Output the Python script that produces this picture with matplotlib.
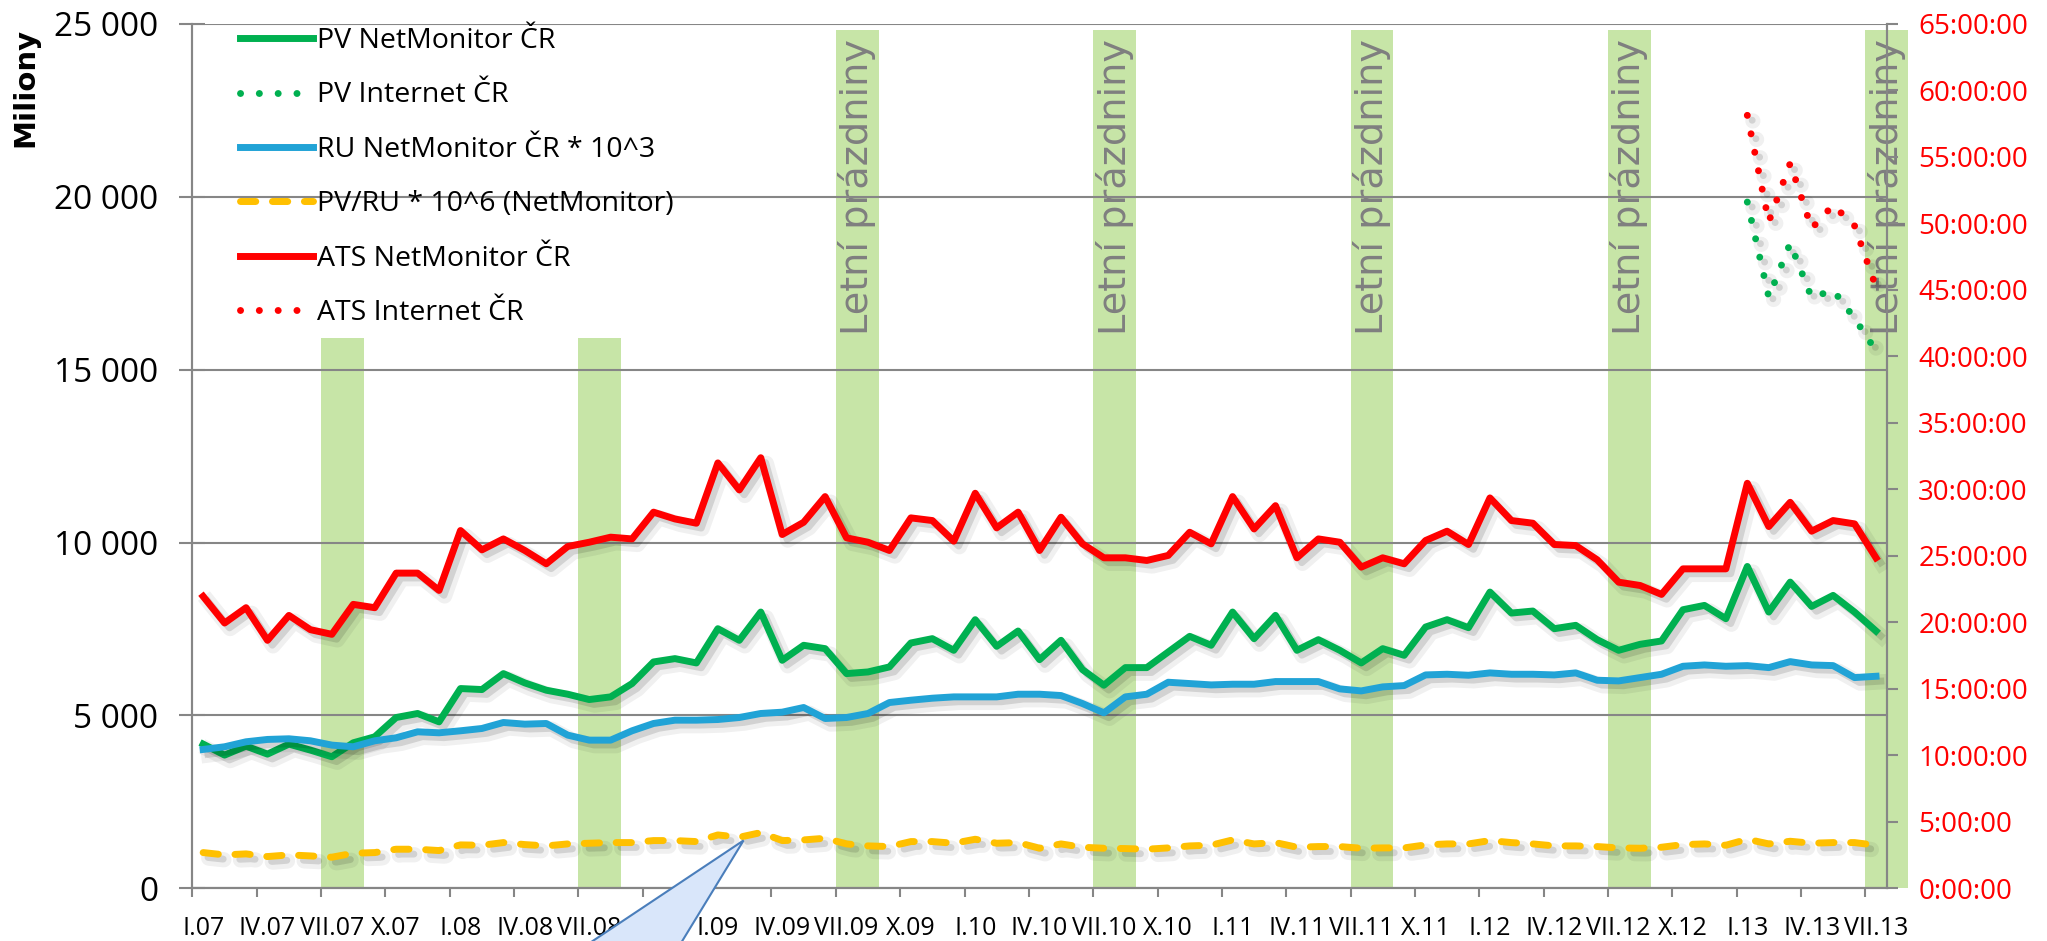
import matplotlib
matplotlib.use('Agg')
import matplotlib.pyplot as plt
import matplotlib.patheffects as pe
from matplotlib.lines import Line2D
from matplotlib.patches import Polygon
from matplotlib.ticker import FuncFormatter, MultipleLocator

# Categories: monthly I.07 .. VII.13
months = ['I', 'II', 'III', 'IV', 'V', 'VI', 'VII', 'VIII', 'IX', 'X', 'XI', 'XII']
years = ['07', '08', '09', '10', '11', '12', '13']
categories = [f'{m}.{y}' for y in years for m in months][:79]

# PV NetMonitor CR (millions)
pv_netmonitor = [4173, 3856, 4115, 3884, 4173, 4000, 3808, 4211, 4384, 4942, 5058, 4817,
                 5779, 5750, 6211, 5942, 5731, 5615, 5461, 5538, 5923, 6548, 6644, 6519,
                 7509, 7173, 7990, 6596, 7029, 6932, 6211, 6259, 6404, 7096, 7221, 6884,
                 7769, 7000, 7442, 6615, 7173, 6327, 5875, 6384, 6384, 6836, 7288, 7029,
                 7990, 7221, 7894, 6884, 7192, 6884, 6519, 6932, 6740, 7557, 7769, 7538,
                 8567, 7961, 8019, 7509, 7606, 7192, 6884, 7057, 7154, 8057, 8182, 7798,
                 9307, 7990, 8855, 8153, 8471, 7990, 7442]
# RU NetMonitor CR * 10^3
ru_netmonitor = [4019, 4096, 4240, 4308, 4327, 4269, 4144, 4096, 4269, 4356, 4529, 4500,
                 4558, 4625, 4798, 4750, 4769, 4433, 4288, 4288, 4558, 4769, 4865, 4865,
                 4884, 4942, 5058, 5096, 5231, 4913, 4942, 5058, 5375, 5442, 5500, 5538,
                 5538, 5538, 5615, 5615, 5577, 5346, 5077, 5538, 5615, 5961, 5923, 5884,
                 5904, 5904, 5981, 5981, 5981, 5769, 5711, 5827, 5865, 6173, 6192, 6163,
                 6231, 6192, 6192, 6173, 6231, 6019, 6000, 6096, 6192, 6423, 6461, 6423,
                 6442, 6384, 6557, 6461, 6442, 6096, 6134]
# PV/RU * 10^6 (NetMonitor)
pv_ru = [1038, 971, 1000, 923, 971, 942, 904, 1019, 1038, 1135, 1135, 1096,
         1260, 1250, 1327, 1269, 1231, 1288, 1308, 1327, 1327, 1385, 1385, 1356,
         1548, 1481, 1615, 1385, 1404, 1452, 1288, 1231, 1212, 1356, 1356, 1308,
         1423, 1308, 1327, 1163, 1288, 1192, 1163, 1154, 1135, 1173, 1231, 1250,
         1404, 1288, 1327, 1192, 1212, 1212, 1163, 1173, 1173, 1260, 1288, 1288,
         1385, 1327, 1288, 1231, 1231, 1212, 1173, 1163, 1192, 1269, 1288, 1250,
         1423, 1288, 1365, 1308, 1327, 1327, 1250]
# ATS NetMonitor CR (hours, right axis)
ats_netmonitor = [21.95, 19.95, 21.10, 18.65, 20.52, 19.45, 19.10, 21.35, 21.10, 23.70, 23.70, 22.40,
                  26.90, 25.45, 26.27, 25.40, 24.40, 25.70, 26.02, 26.40, 26.27, 28.28, 27.77, 27.45,
                  31.98, 29.95, 32.37, 26.60, 27.52, 29.45, 26.35, 26.02, 25.40, 27.85, 27.65, 26.10,
                  29.70, 27.10, 28.28, 25.40, 27.90, 25.90, 24.85, 24.85, 24.65, 25.03, 26.77, 25.90,
                  29.45, 27.02, 28.77, 24.85, 26.27, 26.02, 24.15, 24.85, 24.40, 26.15, 26.85, 25.85,
                  29.35, 27.65, 27.45, 25.85, 25.77, 24.70, 23.02, 22.77, 22.10, 24.02, 24.02, 24.02,
                  30.45, 27.20, 29.02, 26.85, 27.65, 27.40, 24.85]
# Internet CR series, I.13 .. VII.13
internet_categories = ['I.13', 'II.13', 'III.13', 'IV.13', 'V.13', 'VI.13', 'VII.13']
pv_internet = [19840, 17094, 18650, 17075, 17297, 16480, 15540]
ats_internet = [58.1, 50.1, 54.5, 49.6, 51.35, 49.8, 45.2]

# Summer holidays (VII-VIII)
holiday_start = ['VII.07', 'VII.08', 'VII.09', 'VII.10', 'VII.11', 'VII.12', 'VII.13']
holiday_height = [15900, 15900, 24800, 24800, 24800, 24800, 24800]
holiday_text = [False, False, True, True, True, True, True]

GREEN = '#00b050'
BLUE = '#21a3d6'
YELLOW = '#ffc000'
RED = '#ff0000'
BAND = '#c7e5a7'
GRAY = '#868686'
FONT = 'Open Sans'
LW = 5
DOTS = (0, (0.01, 2.7))
DASHES = (0, (2.2, 2.4))

x = list(range(len(categories)))
x_int = [categories.index(c) for c in internet_categories]

fig = plt.figure(figsize=(20.47, 9.41), dpi=100)
ax = fig.add_axes([0.094, 0.0558, 0.8277, 0.9192])
ax2 = ax.twinx()

# soft drop shadow under every series
shadow = [pe.SimpleLineShadow(offset=(4, -4), shadow_color='black', alpha=0.06, linewidth=LW * 2.2),
          pe.SimpleLineShadow(offset=(3.5, -3.5), shadow_color='black', alpha=0.12),
          pe.Normal()]

# holiday bands
for start, h, show in zip(holiday_start, holiday_height, holiday_text):
    c = categories.index(start) + 0.5
    ax.bar(c, h, width=2, color=BAND, zorder=0.5, clip_on=False)
    if show:
        ax.text(c, 24550, 'Letní prázdniny', rotation=90, ha='center', va='top',
                fontsize=27.5, color='#7f7f7f', family='DejaVu Sans', zorder=1, clip_on=False)

ax.plot(x, pv_netmonitor, color=GREEN, lw=LW, path_effects=shadow, zorder=3)
ax.plot(x_int, pv_internet, color=GREEN, lw=LW, linestyle=DOTS,
        dash_capstyle='round', path_effects=shadow, zorder=3)
ax.plot(x, ru_netmonitor, color=BLUE, lw=LW, path_effects=shadow, zorder=3)
ax.plot(x, pv_ru, color=YELLOW, lw=LW, linestyle=DASHES,
        dash_capstyle='round', path_effects=shadow, zorder=3)
ax2.plot(x, ats_netmonitor, color=RED, lw=LW, path_effects=shadow, zorder=3)
ax2.plot(x_int, ats_internet, color=RED, lw=LW, linestyle=DOTS,
         dash_capstyle='round', path_effects=shadow, zorder=3)

# axes ranges
ax.set_xlim(-0.5, len(categories) - 0.5)
ax.set_ylim(0, 25000)
ax2.set_ylim(0, 65)

# left axis
ax.yaxis.set_major_locator(MultipleLocator(5000))
ax.yaxis.set_major_formatter(FuncFormatter(lambda v, p: f'{int(v):,}'.replace(',', ' ')))
ax.tick_params(axis='y', direction='inout', length=19, width=1.5, color=GRAY,
               labelsize=24, pad=15)
ax.grid(axis='y', color=GRAY, lw=1.5)
ax.set_axisbelow('line')

# right axis
ax2.yaxis.set_major_locator(MultipleLocator(5))
ax2.yaxis.set_major_formatter(FuncFormatter(lambda v, p: f'{int(round(v))}:00:00'))
ax2.tick_params(axis='y', direction='out', length=7.7, width=1.5, color=GRAY,
                labelsize=20, labelcolor=RED, pad=15)

# x axis: tick marks at category boundaries, labels every 3rd month
ax.set_xticks([i - 0.5 for i in x[::3]])
ax.set_xticklabels([])
ax.set_xticks(x[::3], categories[::3], minor=True)
ax.tick_params(axis='x', which='major', direction='out', length=6.5, width=1.5, color=GRAY)
ax.tick_params(axis='x', which='minor', length=0, labelsize=18, pad=20)

for a in (ax, ax2):
    a.spines['top'].set_visible(False)
    for s in ('left', 'right', 'bottom'):
        a.spines[s].set_color(GRAY)
        a.spines[s].set_linewidth(1.5)
    for lab in a.get_xticklabels(which='both') + a.get_yticklabels():
        lab.set_family(FONT)

fig.text(25 / 2047, 1 - 87 / 941, 'Miliony', rotation=90, ha='center', va='center',
         fontsize=21, fontweight='bold', family='DejaVu Sans')

# legend
handles = [
    Line2D([], [], color=GREEN, lw=LW),
    Line2D([], [], color=GREEN, lw=LW, linestyle=DOTS, dash_capstyle='round'),
    Line2D([], [], color=BLUE, lw=LW),
    Line2D([], [], color=YELLOW, lw=LW, linestyle=DASHES, dash_capstyle='round'),
    Line2D([], [], color=RED, lw=LW),
    Line2D([], [], color=RED, lw=LW, linestyle=DOTS, dash_capstyle='round'),
]
labels = ['PV NetMonitor ČR', 'PV Internet ČR', 'RU NetMonitor ČR * 10^3',
          'PV/RU * 10^6 (NetMonitor)', 'ATS NetMonitor ČR', 'ATS Internet ČR']
leg = ax2.legend(handles, labels, loc='upper left', bbox_to_anchor=(240 / 2047, 1 - 27 / 941),
                 bbox_transform=fig.transFigure, frameon=False, borderpad=0, borderaxespad=0,
                 handlelength=2.55, handletextpad=0.15, labelspacing=0.93,
                 prop={'family': FONT, 'size': 20.5})

# callout pointer (box lies below the visible area)
fig.canvas.draw()
tip = ax.transData.transform((25.2, 1390))
verts = [tip, (tip[0] - 300, tip[1] - 200), (tip[0] - 122, tip[1] - 200)]
callout = Polygon(verts, closed=True, transform=None, facecolor='#d9e6fa',
                  edgecolor='#4a7ebb', lw=1.5, zorder=10, clip_on=False)
fig.add_artist(callout)

fig.savefig('out.png', dpi=100)
